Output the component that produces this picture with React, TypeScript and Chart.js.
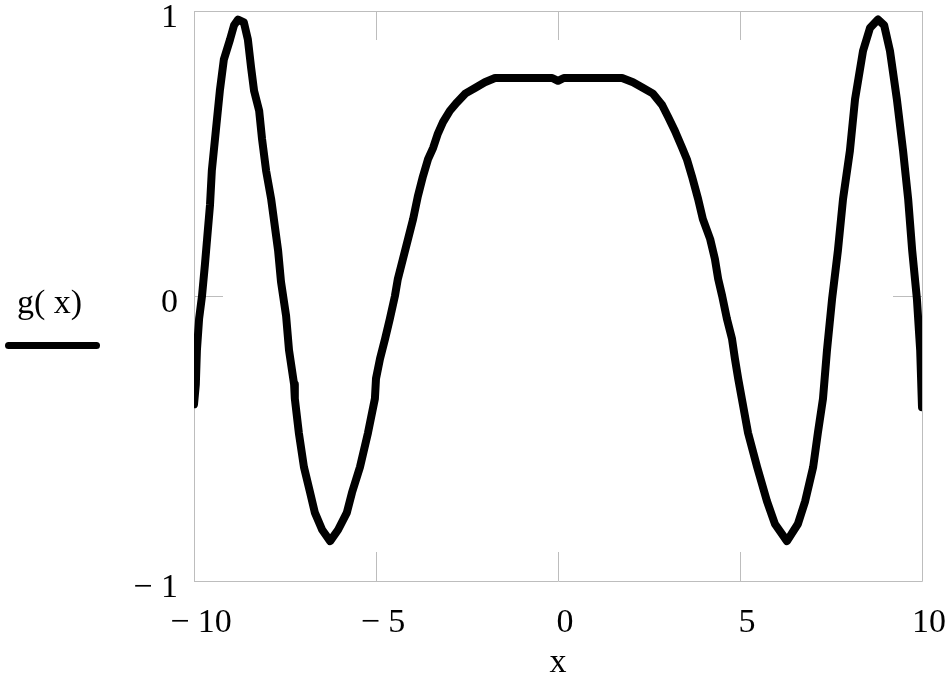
import React, { useEffect, useRef } from "react";
import { Chart, registerables } from "chart.js";

Chart.register(...registerables);

const xValues = [
  -10.0, -9.95, -9.92, -9.86, -9.78, -9.7, -9.64, -9.56, -9.51, -9.4, -9.29, -9.18, -9.01, -8.9, -8.79,
  -8.63, -8.52, -8.43, -8.35, -8.21, -8.13, -8.02, -7.88, -7.69, -7.61, -7.47, -7.39, -7.25, -7.23,
  -7.12, -6.98, -6.81, -6.68, -6.48, -6.26, -6.04, -5.8, -5.66, -5.44, -5.22, -5.03, -5.0, -4.89,
  -4.75, -4.62, -4.48, -4.4, -4.26, -4.12, -3.98, -3.85, -3.71, -3.57, -3.43, -3.3, -3.16, -2.97,
  -2.77, -2.55, -2.28, -2.01, -1.73, -0.16, 0.0, 0.16, 1.76, 2.06, 2.34, 2.61, 2.86, 3.02, 3.21,
  3.41, 3.54, 3.68, 3.85, 3.98, 4.18, 4.31, 4.4, 4.51, 4.64, 4.78, 4.86, 4.95, 5.05, 5.22, 5.47,
  5.74, 5.96, 6.29, 6.59, 6.79, 7.01, 7.14, 7.28, 7.39, 7.53, 7.69, 7.83, 8.02, 8.16, 8.38, 8.57,
  8.79, 8.96, 9.12, 9.31, 9.48, 9.62, 9.73, 9.86, 9.95, 10.0,
];

// g(x) values
const gValues = [
  -0.38, -0.31, -0.19, -0.08, 0.0, 0.11, 0.2, 0.32, 0.44, 0.58, 0.72, 0.83, 0.9, 0.95, 0.97,
  0.96, 0.9, 0.8, 0.72, 0.65, 0.55, 0.44, 0.34, 0.16, 0.05, -0.07, -0.19, -0.31, -0.36,
  -0.48, -0.6, -0.69, -0.76, -0.82, -0.86, -0.82, -0.76, -0.69, -0.6, -0.48, -0.36, -0.29, -0.22,
  -0.15, -0.08, 0.0, 0.06, 0.13, 0.2, 0.27, 0.35, 0.42, 0.48, 0.52, 0.57, 0.61, 0.65,
  0.68, 0.71, 0.73, 0.75, 0.765, 0.765, 0.755, 0.765, 0.765, 0.75, 0.73, 0.71, 0.67, 0.63, 0.58,
  0.52, 0.48, 0.42, 0.34, 0.27, 0.2, 0.13, 0.06, 0.0, -0.08, -0.15, -0.22, -0.29, -0.36, -0.48, -0.6,
  -0.72, -0.8, -0.86, -0.8, -0.72, -0.6, -0.48, -0.36, -0.19, -0.01, 0.16, 0.34, 0.51, 0.69, 0.86, 0.94,
  0.97, 0.95, 0.86, 0.69, 0.51, 0.34, 0.16, -0.01, -0.19, -0.39,
];

const xTickValues = [-10, -5, 0, 5, 10];
const yTickValues = [-1, 0, 1];
const seriesLabel = "g( x)";
const xAxisTitle = "x";

const FONT_FAMILY = '"Liberation Serif", "Times New Roman", serif';
const font = { family: FONT_FAMILY, size: 34, weight: "normal" as const };

function fmt(v: number): string {
  return v < 0 ? "\u2212 " + Math.abs(v) : String(v);
}

const frameAndTicks = {
  id: "frameAndTicks",
  beforeDatasetsDraw(chart: any) {
    const { ctx, chartArea } = chart;
    const { left, right, top, bottom } = chartArea;
    const xs = chart.scales.x;
    const ys = chart.scales.y;
    const len = 29;
    ctx.save();
    ctx.strokeStyle = "#bdbdbd";
    ctx.lineWidth = 1;
    ctx.beginPath();
    ctx.rect(Math.round(left) + 0.5, Math.round(top) + 0.5, Math.round(right - left), Math.round(bottom - top));
    for (const t of xs.ticks) {
      const px = Math.round(xs.getPixelForValue(t.value)) + 0.5;
      ctx.moveTo(px, bottom);
      ctx.lineTo(px, bottom - len);
      ctx.moveTo(px, top);
      ctx.lineTo(px, top + len);
    }
    for (const t of ys.ticks) {
      const py = Math.round(ys.getPixelForValue(t.value)) + 0.5;
      ctx.moveTo(left, py);
      ctx.lineTo(left + len, py);
      ctx.moveTo(right, py);
      ctx.lineTo(right - len, py);
    }
    ctx.stroke();
    ctx.restore();
  },
};

function zeroPadding(s: any) {
  s.paddingTop = 0;
  s.paddingBottom = 0;
  s.paddingLeft = 0;
  s.paddingRight = 0;
}

export default function App() {
  const canvasRef = useRef<HTMLCanvasElement | null>(null);

  useEffect(() => {
    const canvas = canvasRef.current;
    if (!canvas) return;
    const chart = new Chart(canvas, {
      type: "line",
      data: {
        datasets: [
          {
            label: seriesLabel,
            data: xValues.map((x, i) => ({ x, y: gValues[i] })),
            borderColor: "#000000",
            backgroundColor: "#000000",
            borderWidth: 8,
            pointRadius: 0,
            tension: 0,
            fill: false,
            borderJoinStyle: "round",
            borderCapStyle: "round",
          },
        ],
      },
      options: {
        animation: false,
        responsive: false,
        maintainAspectRatio: false,
        layout: { padding: { top: 11, right: 28, left: 0, bottom: 0 } },
        plugins: {
          legend: { display: false },
          tooltip: { enabled: false },
        },
        scales: {
          x: {
            type: "linear",
            min: -10,
            max: 10,
            afterBuildTicks: (s: any) => {
              s.ticks = xTickValues.map((v) => ({ value: v }));
            },
            grid: { display: false, drawTicks: false },
            border: { display: false },
            ticks: {
              font,
              color: "#000000",
              padding: 22,
              labelOffset: 7,
              maxRotation: 0,
              autoSkip: false,
              callback: (v: any) => fmt(Number(v)),
            },
            title: {
              display: true,
              text: xAxisTitle,
              font,
              color: "#000000",
              padding: { top: 0, bottom: 2 },
            },
            afterFit: (s: any) => {
              s.height = 104;
              zeroPadding(s);
            },
          },
          y: {
            type: "linear",
            min: -1,
            max: 1,
            afterBuildTicks: (s: any) => {
              s.ticks = yTickValues.map((v) => ({ value: v }));
            },
            grid: { display: false, drawTicks: false },
            border: { display: false },
            ticks: {
              font,
              color: "#000000",
              padding: 16,
              labelOffset: 7,
              autoSkip: false,
              callback: (v: any) => fmt(Number(v)),
            },
            afterFit: (s: any) => {
              s.width = 194;
              zeroPadding(s);
            },
          },
        },
      } as any,
      plugins: [frameAndTicks],
    });
    return () => chart.destroy();
  }, []);

  return (
    <div
      style={{
        position: "fixed",
        left: 0,
        top: 0,
        width: 950,
        height: 685,
        background: "#ffffff",
      }}
    >
      <canvas ref={canvasRef} width={950} height={685} style={{ width: 950, height: 685, display: "block" }} />
      <div
        style={{
          position: "absolute",
          left: 17,
          top: 285,
          fontFamily: FONT_FAMILY,
          fontSize: 34,
          lineHeight: "34px",
          color: "#000000",
          whiteSpace: "pre",
        }}
      >
        {seriesLabel}
      </div>
      <div
        style={{
          position: "absolute",
          left: 5,
          top: 342,
          width: 95,
          height: 7,
          borderRadius: 4,
          background: "#000000",
        }}
      />
    </div>
  );
}
